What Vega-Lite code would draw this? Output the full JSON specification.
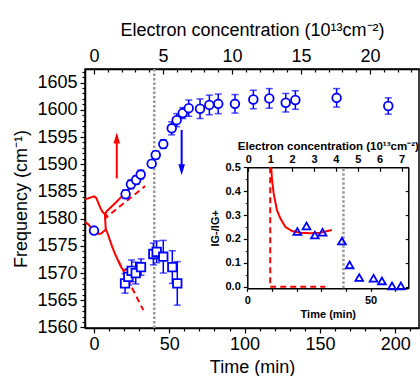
{
 "$schema": "https://vega.github.io/schema/vega-lite/v6.json",
 "width": 334, "height": 259,
 "autosize": {"type": "none"},
 "padding": {"left": 85, "top": 69, "right": 1, "bottom": 48},
 "background": "white",
 "config": {
   "view": {"stroke": "black", "strokeWidth": 1.5},
   "font": "Liberation Sans",
   "axis": {"grid": false, "domainColor": "black", "domainWidth": 1.5, "tickColor": "black", "tickWidth": 1.2, "labelColor": "black", "titleColor": "black", "labelFont": "Liberation Sans", "titleFont": "Liberation Sans", "titleFontWeight": "normal", "labelFlush": false, "labelOverlap": false}
 },
 "datasets": {
   "circles": [
     {"t": 0, "v": 1577.8, "err": 0.5},
     {"t": 21, "v": 1584.5, "err": 0.8},
     {"t": 24.5, "v": 1586.3, "err": 0.8},
     {"t": 28, "v": 1587.1, "err": 0.8},
     {"t": 31, "v": 1588.1, "err": 0.8},
     {"t": 38.3, "v": 1590.1, "err": 0.5},
     {"t": 41, "v": 1591.7, "err": 0.7},
     {"t": 46, "v": 1593.7, "err": 0.8},
     {"t": 51.6, "v": 1596.6, "err": 1.2},
     {"t": 54.9, "v": 1598.1, "err": 1.2},
     {"t": 58.9, "v": 1599.4, "err": 1.0},
     {"t": 62.9, "v": 1600.3, "err": 1.5},
     {"t": 70.4, "v": 1600.2, "err": 1.8},
     {"t": 76.6, "v": 1600.9, "err": 1.8},
     {"t": 82.5, "v": 1601.1, "err": 1.8},
     {"t": 93.6, "v": 1601.1, "err": 1.7},
     {"t": 105.8, "v": 1601.9, "err": 1.7},
     {"t": 116.4, "v": 1602.1, "err": 1.8},
     {"t": 127.3, "v": 1601.3, "err": 1.7},
     {"t": 133.7, "v": 1601.8, "err": 1.7},
     {"t": 161.1, "v": 1602.2, "err": 1.7},
     {"t": 195.4, "v": 1600.7, "err": 1.5}
   ],
   "squares": [
     {"t": 20.6, "v": 1568.1, "err": 1.8},
     {"t": 22.8, "v": 1569.3, "err": 1.5},
     {"t": 25, "v": 1570.4, "err": 2.0},
     {"t": 27.7, "v": 1570.0, "err": 2.0},
     {"t": 31.2, "v": 1571.1, "err": 1.5},
     {"t": 39.4, "v": 1573.5, "err": 2.0},
     {"t": 41.6, "v": 1573.9, "err": 2.0},
     {"t": 46, "v": 1573.0, "err": 3.0},
     {"t": 52, "v": 1571.1, "err": 3.0},
     {"t": 55.3, "v": 1568.1, "err": 4.0}
   ],
   "solidFits": [
     {"s": "u", "t": -6, "v": 1583.6}, {"s": "u", "t": -4, "v": 1583.7}, {"s": "u", "t": -2, "v": 1583.9},
     {"s": "u", "t": 0, "v": 1584.1}, {"s": "u", "t": 1.5, "v": 1583.8}, {"s": "u", "t": 3, "v": 1582.8},
     {"s": "u", "t": 4.5, "v": 1581.8}, {"s": "u", "t": 6, "v": 1581.1}, {"s": "u", "t": 7.2, "v": 1580.9},
     {"s": "u", "t": 9, "v": 1581.5}, {"s": "u", "t": 15, "v": 1583.1}, {"s": "u", "t": 20, "v": 1584.5},
     {"s": "u", "t": 25, "v": 1585.8}, {"s": "u", "t": 30, "v": 1587.2}, {"s": "u", "t": 33, "v": 1588.0},
     {"s": "c", "t": 7.2, "v": 1580.9}, {"s": "c", "t": 7.8, "v": 1578.0},
     {"s": "l", "t": -6, "v": 1579.4}, {"s": "l", "t": -4, "v": 1579.0}, {"s": "l", "t": -1.5, "v": 1578.2},
     {"s": "l", "t": 1, "v": 1577.5}, {"s": "l", "t": 3, "v": 1577.2}, {"s": "l", "t": 5, "v": 1577.3},
     {"s": "l", "t": 6.5, "v": 1577.7}, {"s": "l", "t": 8, "v": 1578.0}, {"s": "l", "t": 9.5, "v": 1576.9},
     {"s": "l", "t": 12, "v": 1574.9}, {"s": "l", "t": 14, "v": 1573.5}, {"s": "l", "t": 16.2, "v": 1572.2},
     {"s": "l", "t": 18.4, "v": 1570.9}, {"s": "l", "t": 20, "v": 1570.5}, {"s": "l", "t": 24, "v": 1570.9},
     {"s": "l", "t": 28, "v": 1571.2}, {"s": "l", "t": 34, "v": 1571.8}
   ],
   "dashedFits": [
     {"s": "ud", "t": 7.6, "v": 1581.0}, {"s": "ud", "t": 8.4, "v": 1580.3}, {"s": "ud", "t": 34, "v": 1586.0},
     {"s": "ld", "t": 16.2, "v": 1572.2}, {"s": "ld", "t": 32.7, "v": 1563.2}
   ],
   "redArrow": [{"t": 15.1, "v": 1587.4, "v2": 1594.3, "h": 1594.8}],
   "blueArrow": [{"t": 58.2, "v": 1596.3, "v2": 1589.5, "h": 1589.0}],
   "mainLine": [{"t": 40, "v": 1559.9, "v2": 1607.5}],
   "concMain": [{"c": 0}, {"c": 20}],
   "ratio": [
     {"t": 20.3, "r": 0.231}, {"t": 24.0, "r": 0.254}, {"t": 27.4, "r": 0.216}, {"t": 30.5, "r": 0.228},
     {"t": 38.4, "r": 0.191}, {"t": 41.5, "r": 0.091}, {"t": 45.4, "r": 0.038}, {"t": 51.2, "r": 0.035},
     {"t": 54.6, "r": 0.024}, {"t": 58.7, "r": 0.003}, {"t": 62.3, "r": 0.003}
   ],
   "insetSolid": [
     {"t": 9.7, "r": 0.5}, {"t": 10.0, "r": 0.45}, {"t": 10.7, "r": 0.391}, {"t": 12.0, "r": 0.321},
     {"t": 13.4, "r": 0.286}, {"t": 15.4, "r": 0.251}, {"t": 18.1, "r": 0.233}, {"t": 21.5, "r": 0.226},
     {"t": 25.5, "r": 0.224}, {"t": 29.6, "r": 0.226}, {"t": 34.3, "r": 0.237}
   ],
   "insetDashed": [
     {"s": "a", "t": 9.3, "r": 0.5}, {"s": "a", "t": 9.3, "r": 0.0},
     {"s": "b", "t": 9.3, "r": 0.0}, {"s": "b", "t": 31.6, "r": 0.0}
   ],
   "insetLine": [{"t": 39, "r": -0.007, "r2": 0.5}],
   "concInset": [{"c": 0}, {"c": 7}]
 },
 "layer": [
   {
     "encoding": {
       "x": {"field": "t", "type": "quantitative", "scale": {"domain": [-5.98, 215.8], "nice": false, "zero": false},
             "axis": {"orient": "bottom", "values": [0,10,20,30,40,50,60,70,80,90,100,110,120,130,140,150,160,170,180,190,200,210], "format": "d",
                      "labelExpr": "datum.value % 50 === 0 ? datum.label : ''",
                      "tickSize": {"condition": {"test": "datum.value % 50 === 0", "value": 5}, "value": 3},
                      "labelFontSize": 18, "titleFontSize": 18, "labelPadding": 2, "titlePadding": 5, "title": "Time (min)"}},
       "y": {"field": "v", "type": "quantitative", "scale": {"domain": [1559.9, 1607.5], "nice": false, "zero": false},
             "axis": {"orient": "left", "values": [1560,1561,1562,1563,1564,1565,1566,1567,1568,1569,1570,1571,1572,1573,1574,1575,1576,1577,1578,1579,1580,1581,1582,1583,1584,1585,1586,1587,1588,1589,1590,1591,1592,1593,1594,1595,1596,1597,1598,1599,1600,1601,1602,1603,1604,1605,1606,1607], "format": "d",
                      "labelExpr": "datum.value % 5 === 0 ? datum.label : ''",
                      "tickSize": {"condition": {"test": "datum.value % 5 === 0", "value": 5}, "value": 3},
                      "labelFontSize": 18, "titleFontSize": 18, "labelPadding": 3, "titlePadding": 6, "title": "Frequency (cm⁻¹)"}}
     },
     "layer": [
       {"data": {"name": "mainLine"}, "mark": {"type": "rule", "color": "#999999", "strokeWidth": 2.5, "strokeDash": [2.5, 2]},
        "encoding": {"y2": {"field": "v2"}}},
       {"data": {"name": "solidFits"}, "mark": {"type": "line", "color": "#ff0000", "strokeWidth": 2},
        "encoding": {"detail": {"field": "s", "type": "nominal"}}},
       {"data": {"name": "dashedFits"}, "mark": {"type": "line", "color": "#ff0000", "strokeWidth": 2, "strokeDash": [6, 4]},
        "encoding": {"detail": {"field": "s", "type": "nominal"}}},
       {"data": {"name": "circles"}, "mark": {"type": "errorbar", "color": "#0000ff", "ticks": {"size": 7, "thickness": 1.5, "color": "#0000ff"}, "rule": {"strokeWidth": 1.5, "color": "#0000ff"}},
        "encoding": {"yError": {"field": "err"}}},
       {"data": {"name": "circles"}, "mark": {"type": "point", "shape": "circle", "filled": true, "fill": "white", "stroke": "#0000ff", "strokeWidth": 1.8, "size": 75, "opacity": 1}},
       {"data": {"name": "squares"}, "mark": {"type": "errorbar", "color": "#0000ff", "ticks": {"size": 7, "thickness": 1.5, "color": "#0000ff"}, "rule": {"strokeWidth": 1.5, "color": "#0000ff"}},
        "encoding": {"yError": {"field": "err"}}},
       {"data": {"name": "squares"}, "mark": {"type": "point", "shape": "square", "filled": true, "fill": "white", "stroke": "#0000ff", "strokeWidth": 1.8, "size": 72, "opacity": 1}},
       {"data": {"name": "redArrow"}, "mark": {"type": "rule", "color": "#ff0000", "strokeWidth": 2},
        "encoding": {"y2": {"field": "v2"}}},
       {"data": {"name": "redArrow"}, "mark": {"type": "point", "shape": "M0,-1L0.6,1L-0.6,1Z", "filled": true, "color": "#ff0000", "size": 121, "opacity": 1},
        "encoding": {"y": {"field": "h", "type": "quantitative"}}},
       {"data": {"name": "blueArrow"}, "mark": {"type": "rule", "color": "#0000ff", "strokeWidth": 2},
        "encoding": {"y2": {"field": "v2"}}},
       {"data": {"name": "blueArrow"}, "mark": {"type": "point", "shape": "M0,1L0.6,-1L-0.6,-1Z", "filled": true, "color": "#0000ff", "size": 121, "opacity": 1},
        "encoding": {"y": {"field": "h", "type": "quantitative"}}}
     ]
   },
   {
     "data": {"name": "concMain"},
     "mark": {"type": "point", "opacity": 0},
     "encoding": {
       "x": {"field": "c", "type": "quantitative", "scale": {"domain": [-0.65, 23.55], "nice": false, "zero": false},
             "axis": {"orient": "top", "values": [0,1,2,3,4,5,6,7,8,9,10,11,12,13,14,15,16,17,18,19,20,21,22,23], "format": "d",
                      "labelExpr": "datum.value % 5 === 0 ? datum.label : ''",
                      "tickSize": {"condition": {"test": "datum.value % 5 === 0", "value": -5}, "value": -3},
                      "labelFontSize": 18, "titleFontSize": 18, "labelPadding": 9, "titlePadding": 6, "title": "Electron concentration (10¹³cm⁻²)"}}
     }
   },
   {
     "encoding": {
       "x": {"field": "t", "type": "quantitative", "scale": {"domain": [0, 65.3], "range": [162.3, 323.3], "nice": false, "zero": false},
             "axis": {"orient": "bottom", "offset": -39.7, "values": [0,10,20,30,40,50,60], "format": "d",
                      "labelExpr": "datum.value % 50 === 0 ? datum.label : ''",
                      "tickSize": 3, "labelFontSize": 11, "labelFontWeight": "bold", "titleFontSize": 11, "titleFontWeight": "bold",
                      "labelPadding": 3, "titlePadding": 3, "title": "Time (min)"}},
       "y": {"field": "r", "type": "quantitative", "scale": {"domain": [-0.007, 0.5], "range": [219.3, 98.3], "nice": false, "zero": false},
             "axis": {"orient": "left", "offset": -162.3, "values": [0,0.05,0.1,0.15,0.2,0.25,0.3,0.35,0.4,0.45,0.5], "format": ".1f",
                      "labelExpr": "round(datum.value*100) % 10 === 0 ? datum.label : ''",
                      "tickSize": {"condition": {"test": "round(datum.value*100) % 10 === 0", "value": 4}, "value": 2},
                      "labelFontSize": 11, "labelFontWeight": "bold", "titleFontSize": 11, "titleFontWeight": "bold",
                      "labelPadding": 3, "titlePadding": 5, "title": "IG-/IG+"}}
     },
     "layer": [
       {"data": {"name": "insetLine"}, "mark": {"type": "rule", "color": "#999999", "strokeWidth": 2.5, "strokeDash": [2.5, 2]},
        "encoding": {"y2": {"field": "r2"}}},
       {"data": {"name": "insetSolid"}, "mark": {"type": "line", "color": "#ff0000", "strokeWidth": 2}},
       {"data": {"name": "insetDashed"}, "mark": {"type": "line", "color": "#ff0000", "strokeWidth": 2, "strokeDash": [6, 4]},
        "encoding": {"detail": {"field": "s", "type": "nominal"}}},
       {"data": {"name": "ratio"}, "mark": {"type": "point", "shape": "triangle-up", "filled": false, "stroke": "#0000ff", "strokeWidth": 1.8, "size": 60, "opacity": 1}}
     ]
   },
   {
     "data": {"name": "concInset"},
     "mark": {"type": "point", "opacity": 0},
     "encoding": {
       "x": {"field": "c", "type": "quantitative", "scale": {"domain": [-0.05, 7.31], "range": [162.3, 323.3], "nice": false, "zero": false},
             "axis": {"orient": "top", "offset": -98.3, "values": [0,0.5,1,1.5,2,2.5,3,3.5,4,4.5,5,5.5,6,6.5,7], "format": "d",
                      "labelExpr": "datum.value % 1 === 0 ? datum.label : ''",
                      "tickSize": {"condition": {"test": "datum.value % 1 === 0", "value": -4}, "value": -2},
                      "labelFontSize": 11, "labelFontWeight": "bold", "titleFontSize": 11.5, "titleFontWeight": "bold",
                      "labelPadding": 7, "titlePadding": 2, "title": "Electron concentration (10¹³cm⁻²)"}}
     }
   },
   {
     "data": {"name": "ratio"},
     "mark": {"type": "point", "opacity": 0},
     "encoding": {
       "y": {"field": "r", "type": "quantitative", "scale": {"domain": [-0.007, 0.5], "range": [219.3, 98.3], "nice": false, "zero": false},
             "axis": {"orient": "right", "offset": -10.7, "values": [0,0.1,0.2,0.3,0.4,0.5], "labels": false, "tickSize": -3, "title": null}}
     }
   }
 ],
 "resolve": {"scale": {"x": "independent", "y": "independent"}, "axis": {"x": "independent", "y": "independent"}}
}
